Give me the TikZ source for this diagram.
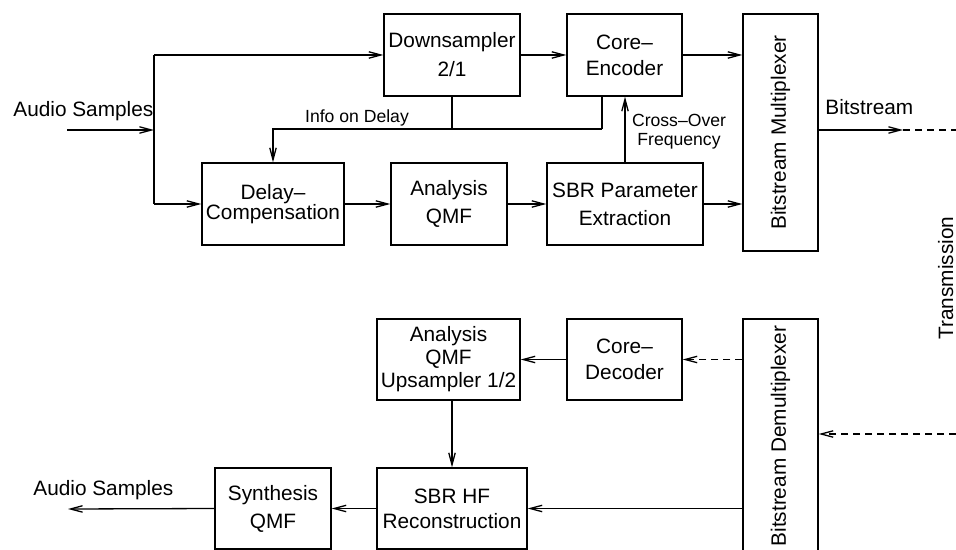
\documentclass[tikz,border=0pt]{standalone}
\usepackage{fontspec}
\setmainfont{Liberation Sans}
\usetikzlibrary{arrows.meta}
\begin{document}
\begin{tikzpicture}[x=0.5pt,y=-0.5pt,
  every node/.style={inner sep=0pt},
  fs/.style={font=\fontsize{10.4}{#1}\selectfont},
  fs/.default=13,
  box/.style={draw, line width=0.65pt, align=center, minimum height=41pt},
  small/.style={font=\fontsize{8.8}{9.5}\selectfont, align=center},
  flow/.style={line width=0.65pt, -{Straight Barb[length=6pt,width=3.2pt]}},
  link/.style={line width=0.65pt},
  dash line/.style={dash pattern=on 3.5pt off 2.5pt}
]
\useasboundingbox (0,0) rectangle (956,550);

% ---------- encoder ----------
\node[box, fs=14.5, minimum width=68pt]   (down)  at (452,55)    {Downsampler\\2/1};
\node[box, fs=13,   minimum width=57.5pt] (core)  at (624.5,55)  {Core--\\Encoder};
\node[box, fs, minimum width=37.5pt, minimum height=118.5pt] (mux) at (780.5,132.5)
  {\rotatebox{90}{Bitstream Multiplexer}};
\node[box, fs=10,   minimum width=71pt]   (delay) at (273,204)   {Delay--\\Compensation};
\node[box, fs=14,   minimum width=58pt]   (aqmf)  at (449,204)   {Analysis\\QMF};
\node[box, fs=14,   minimum width=78pt]   (sbrx)  at (625,204)   {SBR Parameter\\Extraction};

\node[fs, anchor=base west] (ainlbl) at (13,117) {Audio Samples};
\node[fs, anchor=base west] (bslbl)  at (825,115) {Bitstream};
\node[small, anchor=base]   (infolbl) at (357,123) {Info on Delay};
\node[small, anchor=north]  (xolbl)  at (679,114) {Cross--Over\\Frequency};
\node[fs, rotate=90, anchor=base] (txlbl) at (953,278) {Transmission};

\coordinate (ainend) at (67,130);
\coordinate (split)  at (154,130);
\draw[flow] (ainend) -- (split);
\draw[link] (split |- down.west) -- (split |- delay.west);
\draw[flow] (split |- down.west) -- (down.west);
\draw[flow] (split |- delay.west) -- (delay.west);
\draw[flow] (down.east) -- (core.west);
\draw[flow] (core.east) -- (core.east -| mux.west);
\draw[flow] (delay.east) -- (aqmf.west);
\draw[flow] (aqmf.east) -- (sbrx.west);
\draw[flow] (sbrx.east) -- (sbrx.east -| mux.west);

% delay information fed back to the compensation stage
\coordinate (infojoin) at (602,129);
\draw[link] (core.south -| infojoin) -- (infojoin);
\draw[link] (down.south) -- (down.south |- infojoin);
\draw[flow] (infojoin) -- (delay.north |- infojoin) -- (delay.north);

% cross-over frequency
\draw[flow] (sbrx.north) -- (sbrx.north |- core.south);

% bitstream out
\coordinate (bstip) at (903,130);
\coordinate (bsend) at (956,130);
\draw[flow] (mux.east |- bstip) -- (bstip);
\draw[link, dash line] (bstip) -- (bsend);

% ---------- decoder ----------
\node[box, fs=11.5, minimum width=71.5pt, minimum height=40.5pt] (aup)  at (448.5,359.5) {Analysis\\QMF\\Upsampler 1/2};
\node[box, fs=13,   minimum width=57.5pt, minimum height=40.5pt] (cdec) at (624.5,359.5) {Core--\\Decoder};
\node[box, fs, minimum width=37.5pt, minimum height=117pt] (demux) at (780.5,436)
  {\rotatebox{90}{Bitstream Demultiplexer}};
\node[box, fs=12.5, minimum width=75pt, minimum height=40.5pt] (sbrhf) at (452,508.5) {SBR HF\\Reconstruction};
\node[box, fs=14,   minimum width=58pt, minimum height=40.5pt] (synth) at (273,508.5) {Synthesis\\QMF};

\node[fs, anchor=base west] (aoutlbl) at (33,495) {Audio Samples};

\coordinate (txstart) at (956,434);
\draw[flow, dash line] (txstart) -- (demux.east |- txstart);
\draw[flow, dash line] (demux.west |- cdec.east) -- (cdec.east);
\draw[flow] (cdec.west) -- (aup.east);
\draw[flow] (sbrhf.north |- aup.south) -- (sbrhf.north);
\draw[flow] (demux.west |- sbrhf.east) -- (sbrhf.east);
\draw[flow] (sbrhf.west) -- (synth.east);
\coordinate (aoutend) at (68,509);
\draw[flow] (synth.west) -- (aoutend);
\end{tikzpicture}
\end{document}
